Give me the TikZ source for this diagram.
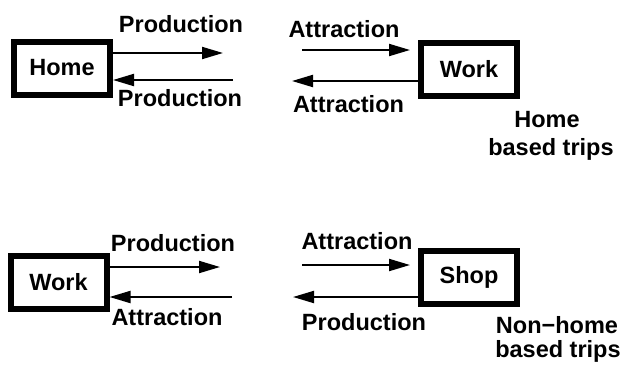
\documentclass[tikz,border=0pt]{standalone}
\usepackage{fontspec}
\setmainfont{Liberation Sans}
\usetikzlibrary{arrows.meta}

\tikzset{
  txt/.style={font=\fontsize{23.5}{27}\bfseries\selectfont},
  box/.style={txt,draw,line width=6pt,inner sep=0pt,minimum width=96pt,minimum height=53pt},
  lbl/.style={txt,anchor=base,inner sep=0pt},
  flow/.style={->,line width=2pt}
}

\begin{document}
\begin{tikzpicture}[x=1pt,y=-1pt,>={Triangle[length=21pt,width=12pt]}]
        \useasboundingbox (0,0) rectangle (621,367);

        % home based trips
        \node[box] (home) at (62,68) {Home};
        \node[box] (workA) at (469,69.5) {Work};

        \coordinate (hp1) at (223,53);
        \coordinate (hp2) at (233,80);
        \coordinate (wp1) at (302,50);
        \coordinate (wp2) at (292,81);

        \draw[flow] (home.east |- hp1) -- (hp1);
        \draw[flow] (hp2) -- (hp2 -| home.east);
        \draw[flow, shorten >=8pt] (wp1) -- (wp1 -| workA.west);
        \draw[flow] (wp2 -| workA.west) -- (wp2);

        \node[lbl] (prodA) at (181,32) {Production};
        \node[lbl] (prodB) at (180,106) {Production};
        \node[lbl] (attrA) at (344,37) {Attraction};
        \node[lbl] (attrB) at (348.5,112) {Attraction};
        \node[lbl] (hbA) at (547,127) {Home};
        \node[lbl] (hbB) at (551,155) {based trips};

        % non-home based trips
        \node[box] (workB) at (58.5,282.5) {Work};
        \node[box] (shop) at (469,277.5) {Shop};

        \coordinate (bp1) at (220,267);
        \coordinate (bp2) at (232,297);
        \coordinate (sp1) at (302,265);
        \coordinate (sp2) at (293,297);

        \draw[flow] (workB.east |- bp1) -- (bp1);
        \draw[flow] (bp2) -- (bp2 -| workB.east);
        \draw[flow, shorten >=8pt] (sp1) -- (sp1 -| shop.west);
        \draw[flow] (sp2 -| shop.west) -- (sp2);

        \node[lbl] (prodC) at (173,251) {Production};
        \node[lbl] (attrC) at (167,325) {Attraction};
        \node[lbl] (attrD) at (357,249) {Attraction};
        \node[lbl] (prodD) at (364,330) {Production};
        \node[lbl] (nhbA) at (557,333) {Non−home};
        \node[lbl] (nhbB) at (558,357) {based trips};
      \end{tikzpicture}
\end{document}
